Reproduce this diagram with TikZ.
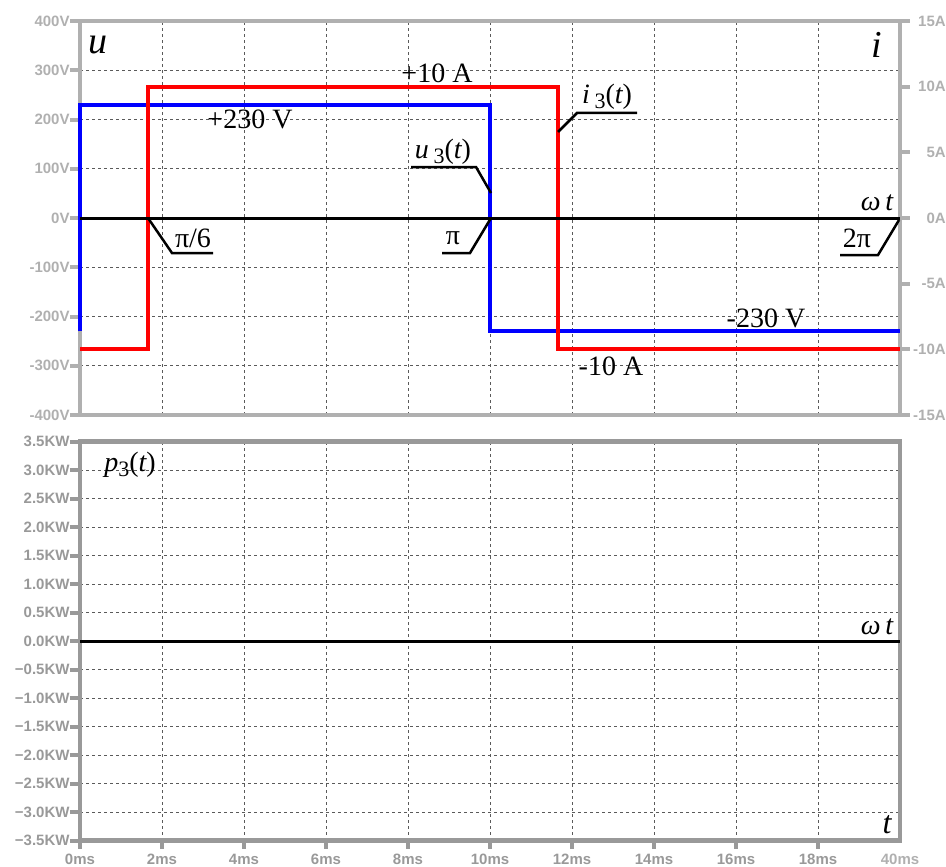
\documentclass[tikz,border=0pt]{standalone}
\usepackage{fontspec}
\setmainfont{Liberation Serif}
\setsansfont{Liberation Sans}
\definecolor{axgray}{HTML}{B0B0B0}
\definecolor{axdark}{HTML}{999999}
\definecolor{gridgray}{HTML}{5A5A5A}
\newcommand\lowidx[1]{\raisebox{-0.4ex}{\fontsize{22}{22}\selectfont #1}}
\begin{document}
\begin{tikzpicture}[x=1pt,y=-1pt,
  gridline/.style={gridgray, dash pattern=on 3pt off 3pt, line width=0.8pt},
  frame/.style={line width=4.5pt},
  trace/.style={line width=4pt},
  leader/.style={line width=2.5pt},
  lbl/.style={font=\fontsize{28}{28}\selectfont, inner sep=0pt},
  biglbl/.style={font=\fontsize{38}{38}\selectfont\itshape, inner sep=0pt},
  ticklbl/.style={font=\fontsize{15}{15}\selectfont\sffamily\bfseries, inner sep=0pt}]
\useasboundingbox (0,0) rectangle (946,867);

% upper plot, u and i
\begin{scope}[shift={(80,218)}, x=41pt, y=0.4925pt]
\foreach \t in {2,4,...,18} \draw[gridline] (\t,-400) -- (\t,400);
\foreach \v in {-300,-200,...,300} \draw[gridline] (0,\v) -- (20,\v);
\foreach \v in {-400,-300,...,400} {
  \draw[axgray, line width=4pt] (-0.25,\v) -- (0,\v);
  \node[ticklbl, axgray, anchor=east] at (-0.25,\v) {\v V};
}
\foreach \a in {-15,-10,...,15} {
  \draw[axgray, line width=4pt] (20,\a*26.667) -- (20.25,\a*26.667);
  \node[ticklbl, axgray, anchor=east] at (21.12,\a*26.667) {\a A};
}
\draw[frame, axgray] (0,-400) rectangle (20,400);
\draw[trace, blue] (0,-230) -- (0,230) -- (10,230) -- (10,-230) -- (20,-230);
\draw[trace, red] (0,-266.7) -- (1.667,-266.7) -- (1.667,266.7) -- (11.667,266.7) -- (11.667,-266.7) -- (20,-266.7);
\draw[line width=3pt] (0,0) -- (20,0);
\end{scope}

% lower plot, p
\begin{scope}[shift={(80,641)}, x=41pt, y=57pt]
\foreach \t in {2,4,...,18} \draw[gridline] (\t,-3.5) -- (\t,3.5);
\foreach \p in {-3,-2.5,...,3} \draw[gridline] (0,\p) -- (20,\p);
\foreach \p/\s in {3.5/3.5,3/3.0,2.5/2.5,2/2.0,1.5/1.5,1/1.0,0.5/0.5,0/0.0,
    -0.5/−0.5,-1/−1.0,-1.5/−1.5,-2/−2.0,-2.5/−2.5,-3/−3.0,-3.5/−3.5} {
  \draw[axdark, line width=4pt] (-0.25,\p) -- (0,\p);
  \node[ticklbl, axdark, anchor=east] at (-0.25,\p) {\s KW};
}
\foreach \t in {0,2,...,18} {
  \draw[axdark, line width=4pt] (\t,-3.5) -- (\t,-3.65);
  \node[ticklbl, axdark] at (\t,-3.825) {\t ms};
}
\node[ticklbl, axgray] at (20,-3.825) {40ms};
\draw[frame, axdark] (0,-3.5) rectangle (20,3.5);
\draw[line width=3pt] (0,0) -- (20,0);
\end{scope}

% labels
\node[biglbl] (axU) at (98,45) {u};
\node[biglbl] (axI) at (877,45) {i};
\node[lbl] (vPos) at (250,119) {+230 V};
\node[lbl] (iPos) at (437,73) {+10 A};
\node[lbl] (vNeg) at (766,318) {-230 V};
\node[lbl] (iNeg) at (611,366) {-10 A};
\node[lbl] (iLbl) at (607,97) {{\itshape i}\,\lowidx{3}({\itshape t})};
\node[lbl] (uLbl) at (443,152) {{\itshape u}\,\lowidx{3}({\itshape t})};
\node[lbl] (pLbl) at (130,465) {{\itshape p}\lowidx{3}({\itshape t})};
\node[lbl] (piSix) at (193,238) {π/6};
\node[lbl] (piOne) at (453,238) {π};
\node[lbl] (piTwo) at (857,238) {2π};
\node[lbl, font=\fontsize{28}{28}\selectfont\itshape] (wtTop) at (877,203) {ω\,t};
\node[lbl, font=\fontsize{28}{28}\selectfont\itshape] (wtBot) at (877,627) {ω\,t};
\node[lbl, font=\fontsize{32}{32}\selectfont\itshape] (tBot) at (887,825) {t};

% leaders
\coordinate (iTip) at (558,132);
\coordinate (uTip) at (491,193);
\coordinate (sixTip) at (148,218);
\coordinate (oneTip) at (491,218);
\coordinate (twoTip) at (899,220);
\draw[leader] (iTip) -- (577,113) -- (637,113);
\draw[leader] (uTip) -- (476,167) -- (411,167);
\draw[leader] (sixTip) -- (172,253) -- (213,253);
\draw[leader] (oneTip) -- (470,253) -- (442,253);
\draw[leader] (twoTip) -- (878,255) -- (840,255);
\end{tikzpicture}
\end{document}
